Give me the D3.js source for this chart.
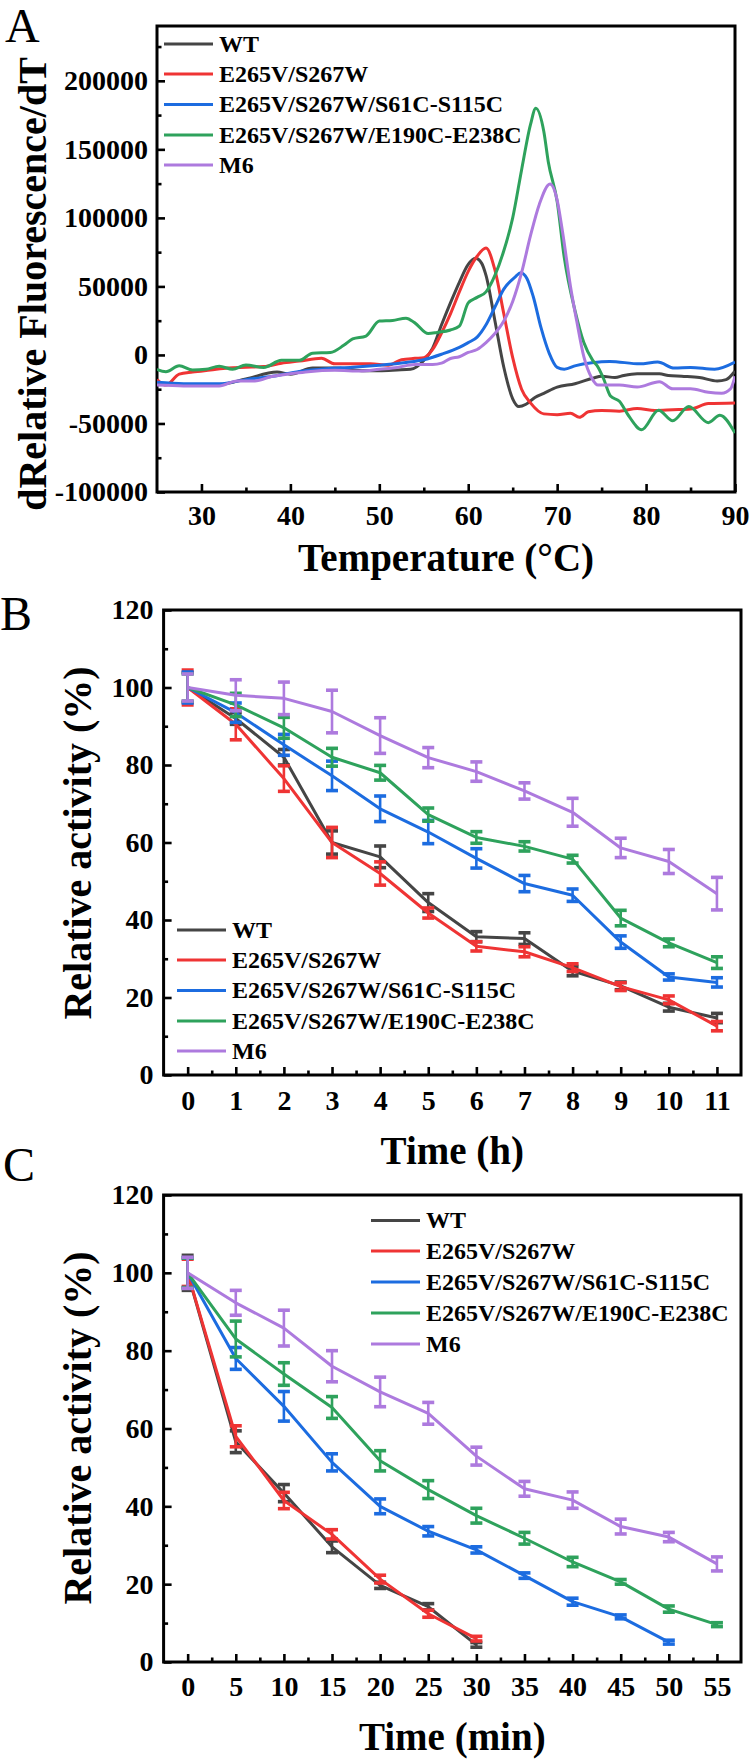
<!DOCTYPE html>
<html><head><meta charset="utf-8">
<script src="https://cdn.jsdelivr.net/npm/d3@7"></script>
<style>
body{margin:0;background:#fff}
svg{display:block}
text{font-family:"Liberation Serif","Times New Roman",serif;}
</style>
</head><body>
<svg id="chart" width="750" height="1760"></svg>
<script>
// ---------- shared ----------
const seriesNames = ["WT","E265V/S267W","E265V/S267W/S61C-S115C","E265V/S267W/E190C-E238C","M6"];
const seriesColors = ["#454545","#ef3434","#1c6ce0","#2ea25c","#ad7ade"];

// ---------- Panel A : dRelative Fluorescence/dT vs Temperature ----------
const wtTemp  = [25,28,32,35,38.5,40,42.5,45,48,50,52,53.5,55,56,57,58,59,60,60.8,61.5,62,63,64,65,65.7,66.5,67.5,68.5,70,72,74,75,76.5,77.5,79,81.5,82.5,84,86,88,89,90];
const wtDeriv = [-21000,-21500,-21500,-17500,-12500,-14000,-9500,-9500,-11500,-11500,-11000,-10500,-4000,5000,22000,38000,53000,66000,70500,67000,58000,25000,-9000,-32000,-37700,-36000,-31000,-28000,-23500,-21000,-17000,-15500,-16500,-15000,-13800,-13800,-15000,-15600,-16500,-19000,-18000,-11700];

const e265Temp  = [25,26,27.5,29,31,33,35,37,39,41,43.5,45,47,49,51,52.5,54,55,56,57,58,59,60,61,62,63,64,65,66,67,68.5,70,71.5,72.5,73.5,75,77,79,81,83,85,87,90];
const e265Deriv = [-18000,-22000,-14000,-12500,-11000,-9500,-9000,-8500,-6000,-4500,-2500,-6500,-6500,-6500,-7500,-3500,-2500,-2000,4000,16000,30000,46000,61000,72000,78000,62000,30000,-2000,-25000,-35000,-43000,-43600,-42500,-45500,-41500,-40500,-41000,-39000,-40500,-40000,-39500,-35500,-35000];

const s61Temp  = [25,28,32,35,38,41,44,47,50,53,55,57,59,60,61,62,63,64,65.3,65.9,66.6,67.3,68.2,69.1,70,70.8,72.1,73.9,75.9,79.3,81.3,83.2,85,87.7,90];
const s61Deriv = [-20000,-21000,-21000,-18000,-15500,-12000,-10000,-9000,-7500,-5500,-3500,500,5500,9000,13000,22000,35000,48000,57000,60000,55800,42800,19500,1300,-9100,-10400,-7800,-5700,-4700,-6500,-5200,-9600,-9100,-10400,-5200];

const e190Temp  = [25,26,27.5,29,30.5,32,33.5,35,37,39,41,42.5,44.5,46,47,48.5,50,51.5,53,54,55.5,56.5,58,59,60,61,62,63,64,65,66,67,67.6,68.5,69,70,70.8,72,73,74,74.6,75.2,76,77,78,79.5,81.4,83,84.8,87,88.3,90];
const e190Deriv = [-10500,-12200,-7800,-11000,-10400,-8300,-10400,-7300,-9100,-3900,-3900,1300,1800,7000,11700,13800,24700,25200,26800,23400,15600,16400,18200,21000,38000,42000,46000,58000,76000,100000,135000,168000,180000,163000,141000,112000,71000,32500,9000,-4000,-9000,-17000,-30000,-33800,-44000,-54500,-40300,-48000,-37700,-49400,-44000,-57000];

const m6Temp  = [25,28,32,34,36,38,40,42,45,48,50,52,54,56,57,58,59,60,61,62,63,64,65,66,67,68,69.2,70,70.6,71.5,72.2,73,73.9,74.6,77,79,81.5,83,85,87,88.5,89.5,90];
const m6Deriv = [-22000,-22600,-22600,-19000,-19000,-15600,-13800,-12200,-11200,-11700,-10400,-9100,-7000,-7000,-6000,-2600,-1300,1800,4000,9000,15600,24700,39000,60000,87000,110000,124700,113000,90000,50000,24700,-1300,-17000,-22000,-22000,-23400,-19500,-24700,-24700,-27300,-28000,-24700,-15600];

const tempTicksA  = [30,40,50,60,70,80,90];
const derivTicksA = [-100000,-50000,0,50000,100000,150000,200000];

// ---------- Panel B : relative activity vs time (h) ----------
const hoursB  = [0,1,2,3,4,5,6,7,8,9,10,11];
const wtB     = [100,92,82,60,56.3,44.5,35.7,35.2,26.8,23,17.5,14.7];
const wtBErr  = [3.8,1.5,2,3,2.8,2.3,1.3,1.5,1.2,1,1,1.2];
const e265B   = [100,90.5,76.5,60,52,41.8,33.2,31.8,27.7,22.8,19.4,12.6];
const e265BErr= [4.5,4,3.3,3.9,3,1.3,1.2,1.3,1,1,1,1.2];
const s61B    = [100,93.5,85.2,77.2,68.7,62.7,55.9,49.4,46.4,34.3,25.3,23.9];
const s61BErr = [4,2.5,2.7,3.8,3.3,3,2.5,2.1,1.6,1.6,0.8,1.2];
const e190B   = [100,95.5,89.6,82,78,67.2,61.3,59,55.7,40.5,34.1,29];
const e190BErr= [3.5,3,2.7,2.3,1.9,1.7,1.5,1.2,1,2,1,1.5];
const m6B     = [100,98,97.2,93.8,87.6,81.9,78.3,73.3,67.8,58.6,55.1,46.8];
const m6BErr  = [3.5,4,4.2,5.5,4.6,2.6,2.5,2.1,3.6,2.5,3.1,4.2];

// ---------- Panel C : relative activity vs time (min) ----------
const minutesC = [0,5,10,15,20,25,30,35,40,45,50,55];
const wtC      = [100,56.6,43.4,29.6,19.7,14.2,4.4];
const wtCErr   = [4.5,2.8,2.2,1.5,0.8,0.8,0.6];
const e265C    = [100,58,41.5,32.8,21.3,12.4,6];
const e265CErr = [3.5,2.7,2.1,1.2,1,0.9,0.6];
const s61C     = [100,78,65.7,51.3,40,33.6,28.8,22.2,15.5,11.6,5.1];
const s61CErr  = [3.8,2.8,3.8,2.2,1.9,1.2,0.8,0.7,0.9,0.5,0.5];
const e190C    = [100,83,74,65.4,51.7,44.3,37.6,31.8,25.7,20.6,13.6,9.6];
const e190CErr = [3.8,4.6,2.9,2.8,2.6,2.3,1.9,1.5,1.2,0.6,0.8,0.5];
const m6C      = [100,92.3,85.8,76,69.4,63.9,52.9,44.5,41.6,34.8,32.1,25.2];
const m6CErr   = [4,3.2,4.6,4,3.8,2.8,2.3,1.9,2.1,1.9,1.2,1.8];

const activityTicks = [0,20,40,60,80,100,120];

// ---------- drawing ----------
const svg = d3.select("#chart");
svg.append("rect").attr("width",750).attr("height",1760).attr("fill","#fff");

function styleAxis(sel){
  sel.select(".domain").remove();
  sel.selectAll(".tick line").attr("stroke","#000").attr("stroke-width",2.6);
  sel.selectAll(".tick text").attr("fill","#000").attr("font-size",28).attr("font-weight","bold")
     .attr("font-family",'"Liberation Serif","Times New Roman",serif');
}

function makePanel(cfg){
  const x = d3.scaleLinear().domain(cfg.xDomain).range([cfg.left,cfg.right]);
  const y = d3.scaleLinear().domain(cfg.yDomain).range([cfg.bottom,cfg.top]);
  const g = svg.append("g");

  // minor ticks
  g.append("g").attr("transform",`translate(0,${cfg.bottom})`)
    .call(d3.axisBottom(x).tickValues(cfg.xMinor).tickSize(-4.5).tickFormat(""))
    .call(styleAxis);
  g.append("g").attr("transform",`translate(${cfg.left},0)`)
    .call(d3.axisLeft(y).tickValues(cfg.yMinor).tickSize(-4.5).tickFormat(""))
    .call(styleAxis);
  // major ticks
  g.append("g").attr("transform",`translate(0,${cfg.bottom})`)
    .call(d3.axisBottom(x).tickValues(cfg.xMajor).tickSize(-8).tickPadding(cfg.xPad).tickFormat(d=>String(d)))
    .call(styleAxis);
  g.append("g").attr("transform",`translate(${cfg.left},0)`)
    .call(d3.axisLeft(y).tickValues(cfg.yMajor).tickSize(-8).tickPadding(cfg.yPad).tickFormat(d=>String(d)))
    .call(styleAxis);

  // frame
  g.append("rect").attr("x",cfg.left).attr("y",cfg.top)
    .attr("width",cfg.right-cfg.left).attr("height",cfg.bottom-cfg.top)
    .attr("fill","none").attr("stroke","#000").attr("stroke-width",3);

  // titles
  g.append("text").attr("x",(cfg.left+cfg.right)/2).attr("y",cfg.xTitleY)
    .attr("text-anchor","middle").attr("font-size",39).attr("font-weight","bold").text(cfg.xTitle);
  g.append("text").attr("transform",`translate(${cfg.yTitleX},${cfg.yTitleCY}) rotate(-90)`)
    .attr("text-anchor","middle").attr("font-size",40).attr("font-weight","bold").text(cfg.yTitle);
  g.append("text").attr("x",cfg.labelX).attr("y",cfg.labelY)
    .attr("font-size",48).text(cfg.label);
  return {x,y,g};
}

function drawLegend(g, lx, rows){
  seriesNames.forEach((n,i)=>{
    g.append("line").attr("x1",lx).attr("x2",lx+49).attr("y1",rows[i]).attr("y2",rows[i])
      .attr("stroke",seriesColors[i]).attr("stroke-width",3.2);
    g.append("text").attr("x",lx+55).attr("y",rows[i]).attr("dy","0.33em")
      .attr("font-size",24).attr("font-weight","bold").text(n);
  });
}

// Panel A
{
  const P = makePanel({left:157,right:735,top:26,bottom:492,
    xDomain:[25,90], yDomain:[-100000,240000],
    xMajor:tempTicksA, xMinor:[35,45,55,65,75,85],
    yMajor:derivTicksA, yMinor:[-75000,-25000,25000,75000,125000,175000,225000],
    xPad:13, yPad:9,
    xTitle:"Temperature (°C)", xTitleY:571,
    yTitle:"dRelative Fluorescence/dT", yTitleX:46, yTitleCY:284,
    label:"A", labelX:5, labelY:42});
  svg.append("clipPath").attr("id","clipA").append("rect")
    .attr("x",157).attr("y",26).attr("width",578).attr("height",466);
  const xs = [wtTemp,e265Temp,s61Temp,e190Temp,m6Temp];
  const ys = [wtDeriv,e265Deriv,s61Deriv,e190Deriv,m6Deriv];
  const line = d3.line().x(d=>P.x(d[0])).y(d=>P.y(d[1])).curve(d3.curveMonotoneX);
  xs.forEach((tx,i)=>{
    const pts = tx.map((t,j)=>[t,ys[i][j]]);
    P.g.append("path").datum(pts).attr("d",line).attr("fill","none")
      .attr("stroke",seriesColors[i]).attr("stroke-width",3).attr("stroke-linejoin","round")
      .attr("clip-path","url(#clipA)");
  });
  drawLegend(P.g,164,[44,74,104.5,135,165]);
}

function drawActivity(P, xsArr, vals, errs){
  const line = d3.line().x(d=>P.x(d[0])).y(d=>P.y(d[1]));
  vals.forEach((v,i)=>{
    const pts = v.map((val,j)=>[xsArr[j],val,errs[i][j]]);
    const c = seriesColors[i];
    P.g.append("path").datum(pts).attr("d",line).attr("fill","none")
      .attr("stroke",c).attr("stroke-width",3).attr("stroke-linejoin","round");
    const eb = P.g.append("g");
    pts.forEach(p=>{
      const cx = P.x(p[0]), y1 = P.y(p[1]+p[2]), y2 = P.y(p[1]-p[2]);
      eb.append("line").attr("x1",cx).attr("x2",cx).attr("y1",y1).attr("y2",y2)
        .attr("stroke",c).attr("stroke-width",2.6);
      [y1,y2].forEach(yy=>{
        eb.append("line").attr("x1",cx-6).attr("x2",cx+6).attr("y1",yy).attr("y2",yy)
          .attr("stroke",c).attr("stroke-width",3.6);
      });
    });
  });
}

// Panel B
{
  const P = makePanel({left:163.6,right:741,top:610,bottom:1075,
    xDomain:[-0.5,11.5], yDomain:[0,120],
    xMajor:hoursB, xMinor:d3.range(0.5,11,1),
    yMajor:activityTicks, yMinor:[10,30,50,70,90,110],
    xPad:15, yPad:10,
    xTitle:"Time (h)", xTitleY:1164,
    yTitle:"Relative activity (%)", yTitleX:91, yTitleCY:843,
    label:"B", labelX:0, labelY:630});
  drawActivity(P, hoursB, [wtB,e265B,s61B,e190B,m6B], [wtBErr,e265BErr,s61BErr,e190BErr,m6BErr]);
  drawLegend(P.g,177,[930,960,990.5,1021,1051]);
}

// Panel C
{
  const P = makePanel({left:163.6,right:741,top:1195,bottom:1662,
    xDomain:[-2.5,57.5], yDomain:[0,120],
    xMajor:minutesC, xMinor:d3.range(2.5,55,5),
    yMajor:activityTicks, yMinor:[10,30,50,70,90,110],
    xPad:14, yPad:10,
    xTitle:"Time (min)", xTitleY:1750,
    yTitle:"Relative activity (%)", yTitleX:91, yTitleCY:1428,
    label:"C", labelX:3, labelY:1181});
  drawActivity(P, minutesC, [wtC,e265C,s61C,e190C,m6C], [wtCErr,e265CErr,s61CErr,e190CErr,m6CErr]);
  drawLegend(P.g,371,[1220.5,1251,1282,1313,1344]);
}
</script>
</body></html>
